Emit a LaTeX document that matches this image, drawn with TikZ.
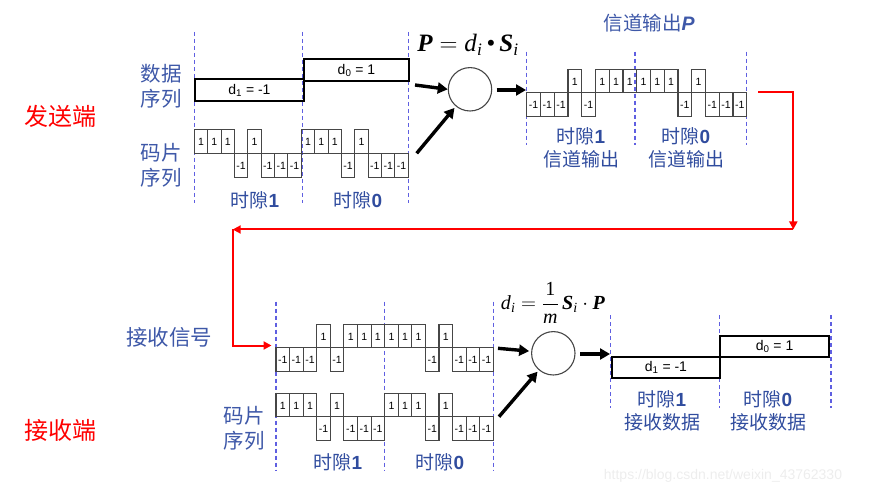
\documentclass[tikz,border=0pt]{standalone}
\usepackage{fontspec}
\usepackage{amsmath}
\setmainfont{Liberation Sans}
\newfontfamily\cjk{Noto Sans CJK SC}
\newfontfamily\tnr{Liberation Serif}
\usetikzlibrary{arrows.meta}
\definecolor{lblue}{RGB}{62,88,168}
\definecolor{dblue}{RGB}{48,76,158}
\definecolor{dashc}{RGB}{95,95,225}
\definecolor{chipc}{RGB}{70,70,70}
\newcommand{\dg}[1]{{\rmfamily\bfseries #1}}
\tikzset{
  chip/.style={draw=chipc, line width=1.1pt},
  chiplabel/.style={inner sep=0pt, font=\fontsize{10.5}{11}\selectfont},
  slotline/.style={dashc, dashed, dash pattern=on 4pt off 3pt, line width=1.2pt},
  databox/.style={draw=black, line width=1.9pt, inner sep=0pt, anchor=north west, font=\fontsize{14}{15}\selectfont},
  lbl/.style={text=lblue, inner sep=0pt, align=center, font=\cjk\fontsize{20.5}{25}\selectfont},
  slbl/.style={text=dblue, inner sep=0pt, align=center, font=\cjk\fontsize{19}{23}\selectfont},
  side/.style={text=red, inner sep=0pt, font=\cjk\fontsize{24}{26}\selectfont},
  summer/.style={circle, draw=chipc, line width=1.1pt, minimum size=43.4pt, inner sep=0pt},
  bigarrow/.style={line width=3.4pt, -{Triangle[length=10pt,width=11pt]}},
  redarrow/.style={red, line width=2pt, -{Triangle[length=8pt,width=8pt]}},
}
\newcommand{\chipseq}[6]{%
  \foreach \v [count=\k from 0] in {#6} {
    \pgfmathsetmacro{\xa}{#2+\k*#4}
    \pgfmathsetmacro{\xb}{#2+(\k+1)*#4}
    \pgfmathsetmacro{\yt}{#3-\v*#5}
    \draw[chip] (\xa,#3) rectangle (\xb,\yt);
    \node[chiplabel] (#1-\k) at ({(\xa+\xb)/2},{(#3+\yt)/2+0.5}) {\v};
  }}
\begin{document}
\begin{tikzpicture}[x=1pt,y=-1pt]
\useasboundingbox (0,0) rectangle (869,494);

% ---------- sender ----------
\node[side] (send) at (60,116) {发送端};
\node[lbl] (datalbl) at (161,86) {数据\\序列};
\node[lbl] (chiplbl) at (161,165) {码片\\序列};

\foreach \x in {194.3,302.7,408.3} \draw[slotline] (\x,32) -- (\x,203);
\node[databox, minimum width=108.4pt, minimum height=21.7pt] (d1s) at (194.3,78.3) {d\textsubscript{1} = -1};
\node[databox, minimum width=105.6pt, minimum height=21.7pt] (d0s) at (302.7,58.3) {d\textsubscript{0} = 1};
\chipseq{s}{194.3}{153.3}{13.375}{24}{1,1,1,-1,1,-1,-1,-1,1,1,1,-1,1,-1,-1,-1}
\node[slbl] (ts1) at (255,200) {时隙\dg{1}};
\node[slbl] (ts0) at (358,200) {时隙\dg{0}};

\node[inner sep=0pt, font=\tnr\fontsize{25}{26}\selectfont] (f1) at (468,45)
  {$\text{\textbf{\textit{P}}}=\text{\textit{d}}_{\text{\textit{i}}}\,\text{•}\,\text{\textbf{\textit{S}}}_{\text{\textit{i}}}$};
\node[summer] (sum1) at (470,89.3) {};
\coordinate (a1) at (415,85);
\coordinate (a2) at (416.7,153.3);
\coordinate (a3s) at (496.7,90);
\coordinate (a3e) at (526,90);
\draw[bigarrow] (a1) -- (sum1.west);
\draw[bigarrow, shorten >=2pt] (a2) -- (sum1);
\draw[bigarrow] (a3s) -- (a3e);

% channel output
\node[text=lblue, inner sep=0pt, font=\cjk\fontsize{19.5}{22}\selectfont] (chout) at (649,23) {信道输出{\rmfamily\bfseries\itshape P}};
\foreach \x in {526.7,635,746.7} \draw[slotline] (\x,51.7) -- (\x,145);
\chipseq{p}{526.7}{92.7}{13.75}{23.5}{-1,-1,-1,1,-1,1,1,1,1,1,1,-1,1,-1,-1,-1}
\node[slbl] (co1) at (581,148) {时隙\dg{1}\\信道输出};
\node[slbl] (co0) at (686,148) {时隙\dg{0}\\信道输出};

% ---------- red channel path ----------
\coordinate (r1) at (758,91.7);
\coordinate (r3) at (793.3,229.5);
\coordinate (r5) at (232.7,229.5);
\coordinate (r6) at (271.5,345.5);
\draw[redarrow] (r1) -| (r3);
\draw[redarrow] (r3) -- (r5);
\draw[redarrow] (r5) |- (r6);

% ---------- receiver ----------
\node[text=lblue, inner sep=0pt, font=\cjk\fontsize{21.5}{24}\selectfont] (rxlbl) at (169,337) {接收信号};
\node[side] (recv) at (60,430) {接收端};
\node[lbl] (chiplbl2) at (244,428) {码片\\序列};

\foreach \x in {276,384.3,493.3} \draw[slotline] (\x,301.7) -- (\x,470);
\chipseq{q}{276}{347.7}{13.58}{23.5}{-1,-1,-1,1,-1,1,1,1,1,1,1,-1,1,-1,-1,-1}
\chipseq{c}{276}{416.7}{13.58}{23.5}{1,1,1,-1,1,-1,-1,-1,1,1,1,-1,1,-1,-1,-1}
\node[slbl] (tr1) at (338,462) {时隙\dg{1}};
\node[slbl] (tr0) at (440,462) {时隙\dg{0}};

\node[inner sep=0pt, font=\tnr\fontsize{20}{22}\selectfont] (f2) at (553,303)
  {$\text{\textit{d}}_{\text{\textit{i}}}=\dfrac{\text{1}}{\text{\textit{m}}}\,\text{\textbf{\textit{S}}}_{\text{\textit{i}}}\cdot\text{\textbf{\textit{P}}}$};
\node[summer] (sum2) at (553.3,353.3) {};
\coordinate (b1) at (498,348.3);
\coordinate (b2) at (499,416.7);
\coordinate (b3s) at (580,354);
\coordinate (b3e) at (610,354);
\draw[bigarrow, shorten >=2pt] (b1) -- (sum2);
\draw[bigarrow, shorten >=2pt] (b2) -- (sum2);
\draw[bigarrow] (b3s) -- (b3e);

\foreach \x in {610.7,719.3,831} \draw[slotline] (\x,315) -- (\x,408.3);
\node[databox, minimum width=108.6pt, minimum height=21pt] (d1r) at (610.7,355.7) {d\textsubscript{1} = -1};
\node[databox, minimum width=108.7pt, minimum height=21pt] (d0r) at (719.3,335) {d\textsubscript{0} = 1};
\node[slbl] (rd1) at (662,411) {时隙\dg{1}\\接收数据};
\node[slbl] (rd0) at (768,411) {时隙\dg{0}\\接收数据};

\node[text=black!7, inner sep=0pt, font=\fontsize{14}{15}\selectfont] (wm) at (723,476) {https://blog.csdn.net/weixin\_43762330};
\end{tikzpicture}
\end{document}
